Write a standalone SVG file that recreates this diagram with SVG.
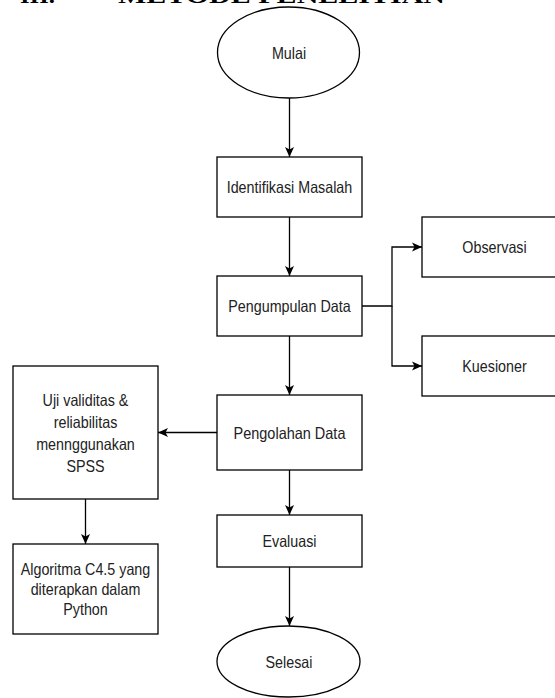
<svg xmlns="http://www.w3.org/2000/svg" width="555" height="698" viewBox="0 0 555 698">
<style>
.shape{fill:#fff;stroke:#000;stroke-width:1.3}
.lbl{font-family:"Liberation Sans",Arial,sans-serif;font-size:16.5px;fill:#222;text-anchor:middle}
.head{font-family:"Liberation Serif","Times New Roman",serif;font-weight:bold;font-size:22px;fill:#000}
.conn{fill:none;stroke:#000;stroke-width:1.3}
</style>
<defs>
<marker id="arr" markerUnits="userSpaceOnUse" markerWidth="12" markerHeight="10" refX="10" refY="5" orient="auto">
<path d="M0,0.5 L10,5 L0,9.5 L2.5,5 Z" fill="#000"/>
</marker>
</defs>
<rect width="555" height="698" fill="#fff"/>
<g id="heading">
<text class="head" x="20" y="2.5" textLength="35" lengthAdjust="spacingAndGlyphs">III.</text>
<text class="head" x="118" y="2.5" textLength="327" lengthAdjust="spacingAndGlyphs">METODE PENELITIAN</text>
</g>
<g id="connectors">
<path class="conn" d="M289.5,98 V157" marker-end="url(#arr)"/>
<path class="conn" d="M289.5,217 V276" marker-end="url(#arr)"/>
<path class="conn" d="M289.5,336 V395" marker-end="url(#arr)"/>
<path class="conn" d="M362,306 H392 V247 H422" marker-end="url(#arr)"/>
<path class="conn" d="M392,306 V366 H422" marker-end="url(#arr)"/>
<path class="conn" d="M217,432.5 H158" marker-end="url(#arr)"/>
<path class="conn" d="M85.5,499 V544" marker-end="url(#arr)"/>
<path class="conn" d="M289.5,470 V515" marker-end="url(#arr)"/>
<path class="conn" d="M289.5,567 V626" marker-end="url(#arr)"/>
</g>
<g id="mulai">
<ellipse class="shape" cx="288.5" cy="52.5" rx="71" ry="45.5"/>
<text class="lbl" x="289" y="58.5" textLength="34.2" lengthAdjust="spacingAndGlyphs">Mulai</text>
</g>
<g id="identifikasi">
<rect class="shape" x="217" y="157" width="145" height="60"/>
<text class="lbl" x="289.5" y="193" textLength="125.6" lengthAdjust="spacingAndGlyphs">Identifikasi Masalah</text>
</g>
<g id="pengumpulan">
<rect class="shape" x="217" y="276" width="145" height="60"/>
<text class="lbl" x="289.5" y="312" textLength="122.4" lengthAdjust="spacingAndGlyphs">Pengumpulan Data</text>
</g>
<g id="observasi">
<rect class="shape" x="422" y="217" width="145" height="60"/>
<text class="lbl" x="494.5" y="253" textLength="64.4" lengthAdjust="spacingAndGlyphs">Observasi</text>
</g>
<g id="kuesioner">
<rect class="shape" x="422" y="336" width="145" height="60"/>
<text class="lbl" x="494.5" y="372" textLength="64.4" lengthAdjust="spacingAndGlyphs">Kuesioner</text>
</g>
<g id="pengolahan">
<rect class="shape" x="217" y="395" width="145" height="75"/>
<text class="lbl" x="289.5" y="438.5" textLength="111.9" lengthAdjust="spacingAndGlyphs">Pengolahan Data</text>
</g>
<g id="uji">
<rect class="shape" x="13" y="366" width="145" height="133"/>
<text class="lbl" x="85.5" y="405.5" textLength="85.8" lengthAdjust="spacingAndGlyphs">Uji validitas &amp;</text>
<text class="lbl" x="85.5" y="427.5" textLength="63.6" lengthAdjust="spacingAndGlyphs">reliabilitas</text>
<text class="lbl" x="85.5" y="449.5" textLength="98.6" lengthAdjust="spacingAndGlyphs">mennggunakan</text>
<text class="lbl" x="85.5" y="471.5" textLength="38.2" lengthAdjust="spacingAndGlyphs">SPSS</text>
</g>
<g id="algoritma">
<rect class="shape" x="13" y="544" width="145" height="90"/>
<text class="lbl" x="85.5" y="575" textLength="129.5" lengthAdjust="spacingAndGlyphs">Algoritma C4.5 yang</text>
<text class="lbl" x="85.5" y="595" textLength="109.7" lengthAdjust="spacingAndGlyphs">diterapkan dalam</text>
<text class="lbl" x="85.5" y="615" textLength="44.5" lengthAdjust="spacingAndGlyphs">Python</text>
</g>
<g id="evaluasi">
<rect class="shape" x="217" y="515" width="145" height="52"/>
<text class="lbl" x="289.5" y="547" textLength="54" lengthAdjust="spacingAndGlyphs">Evaluasi</text>
</g>
<g id="selesai">
<ellipse class="shape" cx="288.5" cy="661.5" rx="71.5" ry="35.5"/>
<text class="lbl" x="289" y="667.5" textLength="46.9" lengthAdjust="spacingAndGlyphs">Selesai</text>
</g>
</svg>
